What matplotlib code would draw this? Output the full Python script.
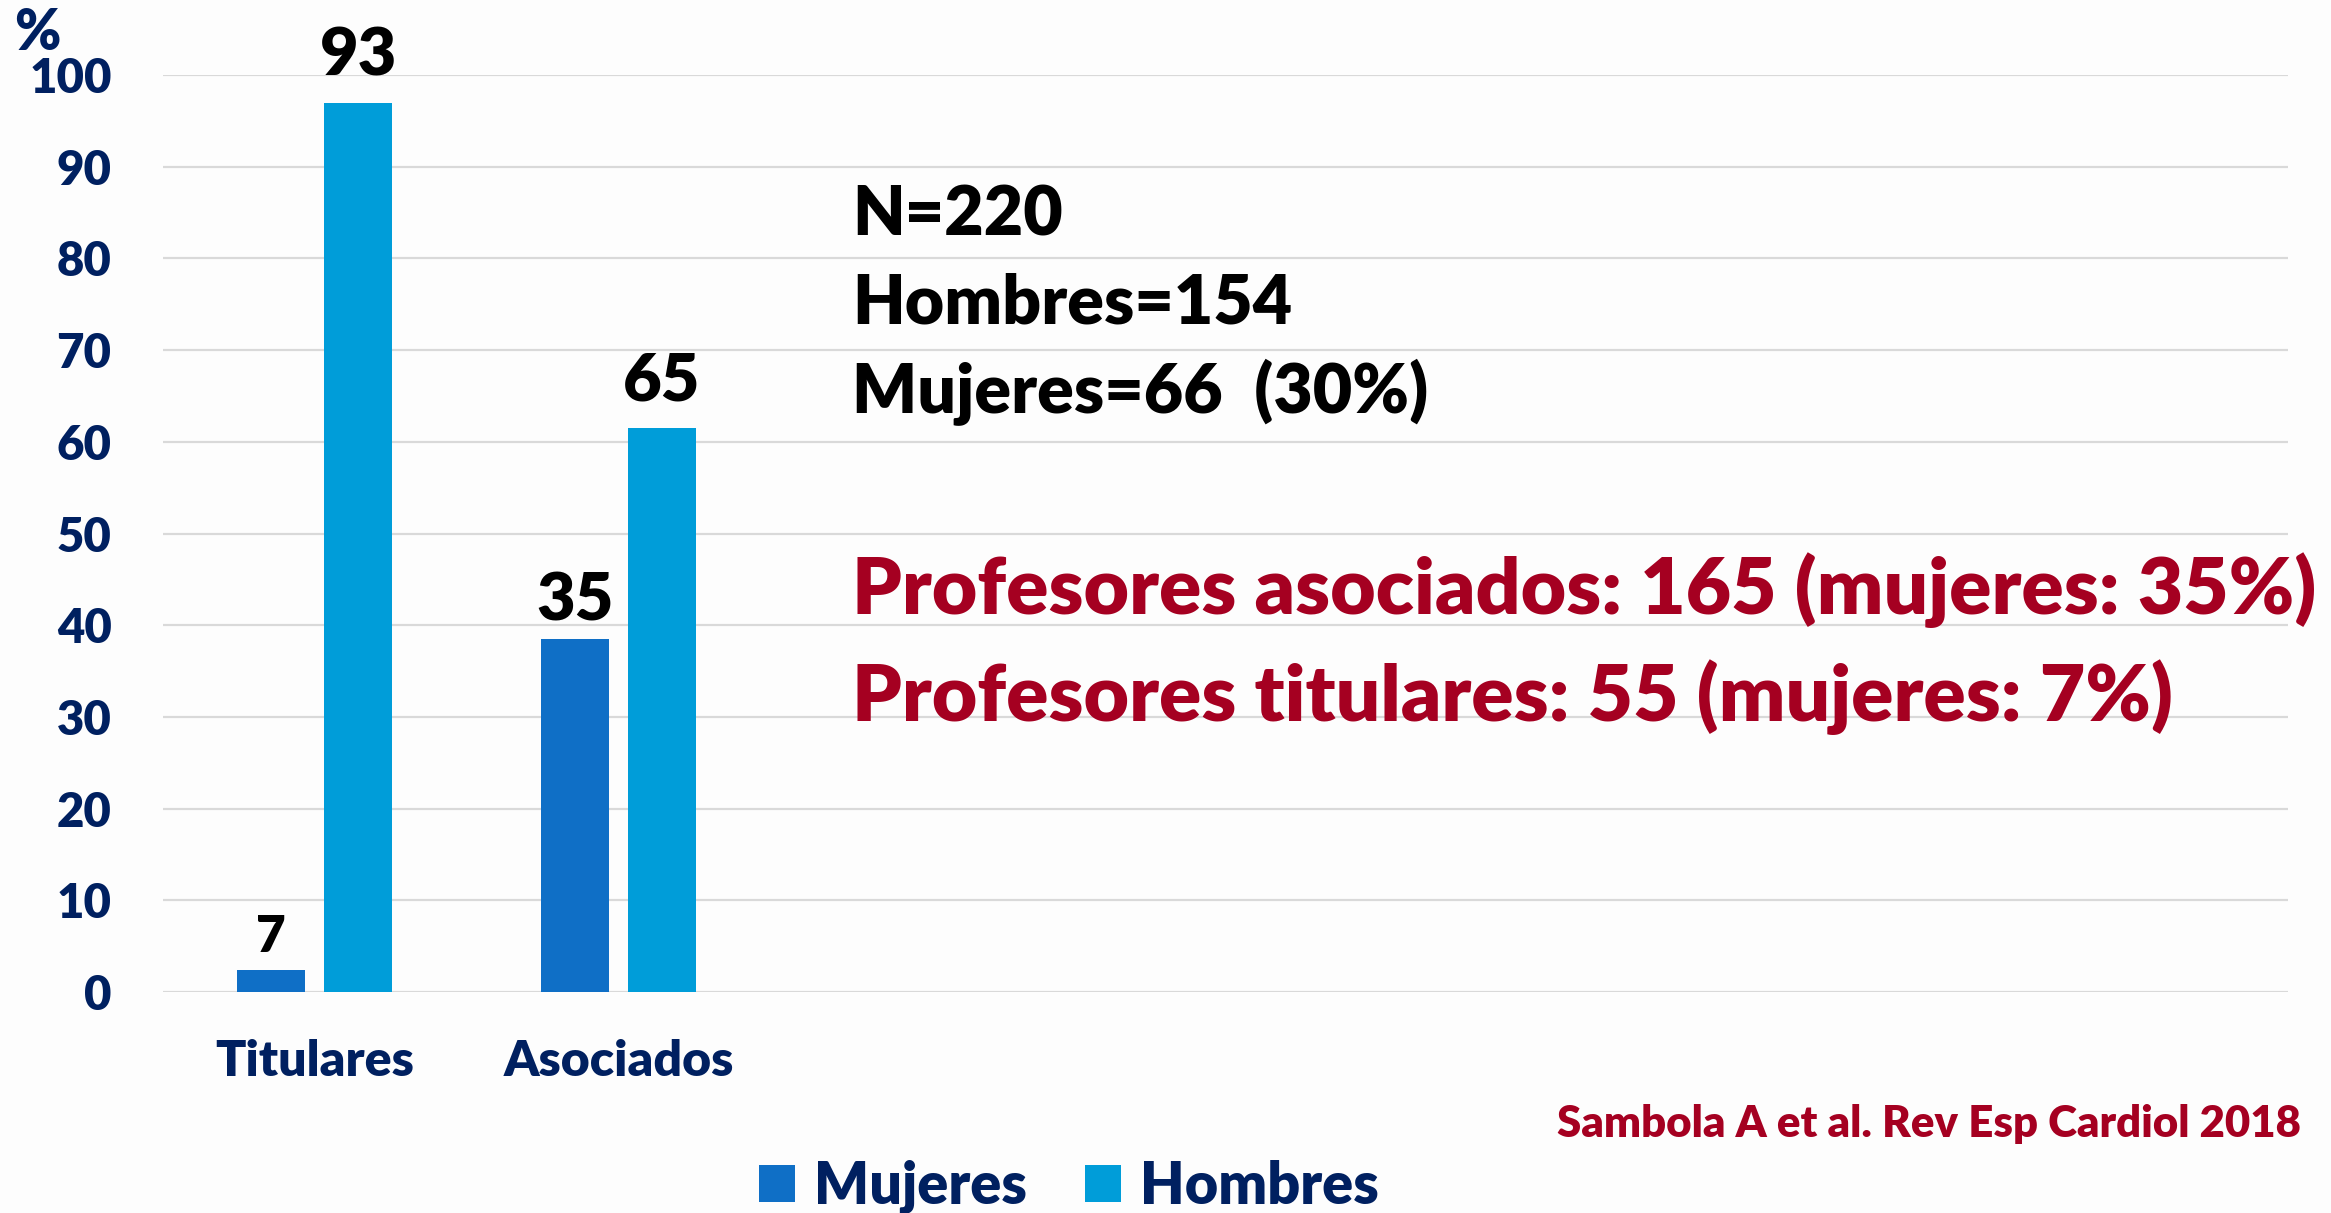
import numpy as np
import matplotlib
matplotlib.use("Agg")
from matplotlib import pyplot as plt

# fuente parecida a Calibri
plt.rcParams['font.family'] = ['Lato', 'DejaVu Sans']
plt.rcParams['font.weight'] = 'heavy'
PESO = 'heavy'

# datos
categorias = ["Titulares", "Asociados"]
mujeres = [2.4, 38.5]
hombres = [97.0, 61.5]
etiquetas_mujeres = ["7", "35"]
etiquetas_hombres = ["93", "65"]
yticks = list(range(0, 101, 10))

resumen = ["N=220", "Hombres=154", "Mujeres=66  (30%)"]
profesores = ["Profesores asociados: 165 (mujeres: 35%)",
              "Profesores titulares: 55 (mujeres: 7%)"]
referencia = "Sambola A et al. Rev Esp Cardiol 2018"

AZUL_M = "#0F6FC6"
AZUL_H = "#009DD9"
NAVY = "#002060"
ROJO = "#A50021"

W, H = 2331, 1213
fig = plt.figure(figsize=(W / 100, H / 100), dpi=100)


def fx(px):
    return px / W


def fy(py):
    return 1 - py / H


# fondo con degradado blanco -> gris
bg = fig.add_axes([0, 0, 1, 1], zorder=-10)
t = np.linspace(0, 1, 400)
g = np.interp(t, [0, 0.3, 1.0], [0.995, 0.985, 0.83])
bg.imshow(np.dstack([g, g, g])[:, :1, :].repeat(2, axis=1), aspect='auto',
          extent=[0, 1, 0, 1], origin='upper')
bg.axis('off')

ax = fig.add_axes([fx(163), fy(992), fx(2288) - fx(163), fy(75) - fy(992)])
ax.set_facecolor('none')

x = np.arange(len(categorias))
ancho = 0.224
desp = 0.143
b1 = ax.bar(x - desp, mujeres, ancho, color=AZUL_M, label="Mujeres", zorder=3)
b2 = ax.bar(x + desp, hombres, ancho, color=AZUL_H, label="Hombres", zorder=3)

# etiquetas de valor
for xi, v, s in zip(x - desp, mujeres, etiquetas_mujeres):
    ax.text(xi, v + 2.0, s, ha='center', va='baseline', color='black',
            fontsize=37 if s == "7" else 48, fontweight=PESO)
for xi, v, s in zip(x + desp, hombres, etiquetas_hombres):
    ax.text(xi, v + 3.0, s, ha='center', va='baseline', color='black',
            fontsize=48, fontweight=PESO)

ax.set_xlim(-0.5, 6.5)
ax.set_ylim(0, 100)
ax.set_yticks(yticks)
ax.set_yticklabels([str(v) for v in yticks], color=NAVY, fontsize=34, fontweight=PESO)
ax.tick_params(axis='y', length=0, pad=37)
ax.set_xticks(x)
ax.set_xticklabels(categorias, color=NAVY, fontsize=36, fontweight=PESO)
ax.tick_params(axis='x', length=0, pad=34)
ax.grid(axis='y', color='#d9d9d9', linewidth=1.6, zorder=0)
for s in ax.spines.values():
    s.set_visible(False)

# "%" sobre el eje
fig.text(fx(37), fy(33), "%", ha='center', va='center', color=NAVY,
         fontsize=40, fontweight=PESO)

# textos a la derecha
for i, s in enumerate(resumen):
    fig.text(fx(852), fy(235 + 89 * i), s, ha='left', va='baseline',
             color='black', fontsize=49, fontweight=PESO)
for i, s in enumerate(profesores):
    fig.text(fx(852), fy(614 + 107 * i), s, ha='left', va='baseline',
             color=ROJO, fontsize=56.5, fontweight=PESO)
fig.text(fx(2301), fy(1137), referencia, ha='right', va='baseline',
         color=ROJO, fontsize=31.5, fontweight=PESO)

# leyenda
leg = fig.legend(handles=[b1, b2], loc='lower center', bbox_to_anchor=(fx(1069), fy(1214)),
                 ncol=2, frameon=False, fontsize=41.5, handlelength=0.62, handleheight=0.62,
                 handletextpad=0.33, columnspacing=1.0, borderpad=0, borderaxespad=0)
for txt in leg.get_texts():
    txt.set_color(NAVY)
    txt.set_fontweight(PESO)

fig.savefig("out.png", dpi=100)
